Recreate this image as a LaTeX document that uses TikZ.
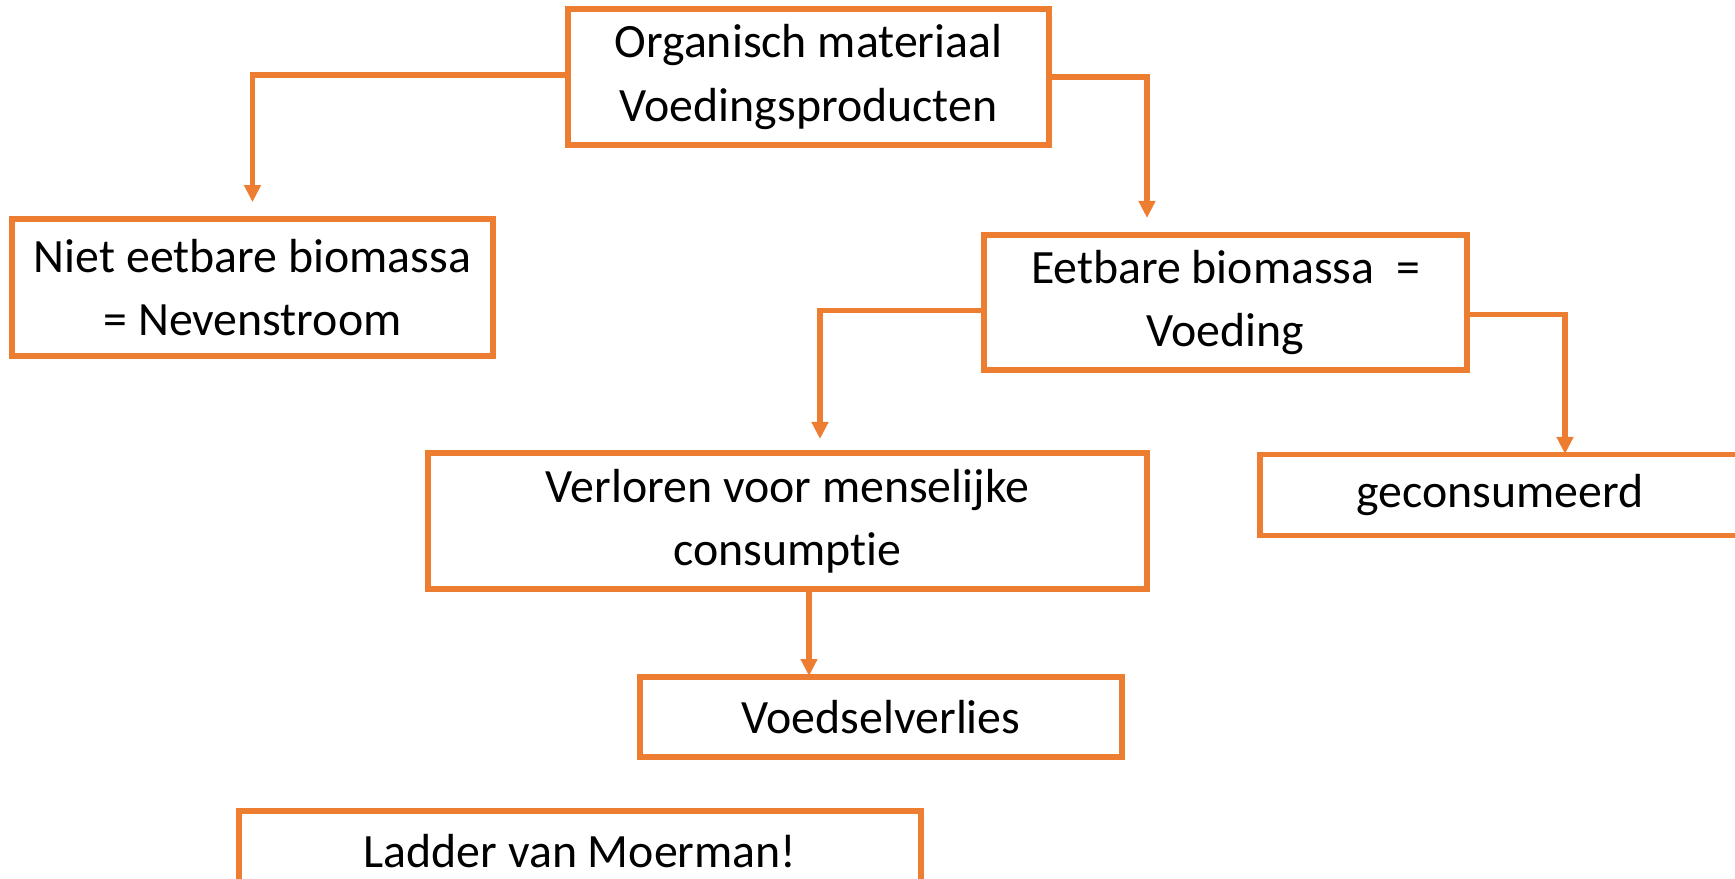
\documentclass[tikz,border=0pt]{standalone}
\usepackage{fontspec}
\setmainfont[Ligatures=NoCommon]{Carlito}
\usetikzlibrary{arrows.meta}
\definecolor{oranje}{RGB}{237,125,49}
\tikzset{
	vak/.style={draw=oranje,line width=1.6pt,fill=white,align=center,inner sep=0pt,
		font=\fontsize{13.6}{18}\selectfont},
	pijl/.style={draw=oranje,line width=1.5pt,-{Triangle[width=0.16cm,length=0.17cm]}}
}
\begin{document}
\begin{tikzpicture}[x=0.01cm,y=-0.01cm]
	\useasboundingbox (0,0) rectangle (1735,878);
	%VAKKEN
	\node[vak,minimum width=4.81cm,minimum height=1.36cm] (org) at (808.5,77) {Organisch materiaal\\Voedingsproducten};
	\node[vak,minimum width=4.81cm,minimum height=1.37cm] (niet) at (252.5,287.5) {Niet eetbare biomassa\\= Nevenstroom};
	\node[vak,minimum width=4.83cm,minimum height=1.35cm] (eet) at (1225.5,302.5) {Eetbare biomassa\ \ =\\Voeding};
	\node[vak,minimum width=7.19cm,minimum height=1.36cm] (verl) at (787.5,521) {Verloren voor menselijke\\consumptie};
	\node[vak,minimum width=4.80cm,minimum height=0.81cm] (gecon) at (1500,495) {geconsumeerd};
	\node[vak,minimum width=4.82cm,minimum height=0.80cm] (voed) at (881,717) {Voedselverlies};
	\node[vak,minimum width=6.82cm,minimum height=0.80cm] (ladder) at (580,851) {Ladder van Moerman!};
	%eindpunten
	\coordinate (eetin) at (1147,218);
	\coordinate (verlin) at (820,439);
	\coordinate (gecin) at (1565,454);
	\coordinate (voedin) at (809,676);
	%PIJLEN
	\draw[pijl,shorten >=0.14cm] ([shift={(0,-2)}]org.west) -| (niet.north);
	\draw[pijl] (org.east) -| (eetin);
	\draw[pijl] ([shift={(0,8)}]eet.west) -| (verlin);
	\draw[pijl] ([shift={(0,12)}]eet.east) -| (gecin);
	\draw[pijl] (verl.south -| voedin) -- (voedin);
\end{tikzpicture}
\end{document}
